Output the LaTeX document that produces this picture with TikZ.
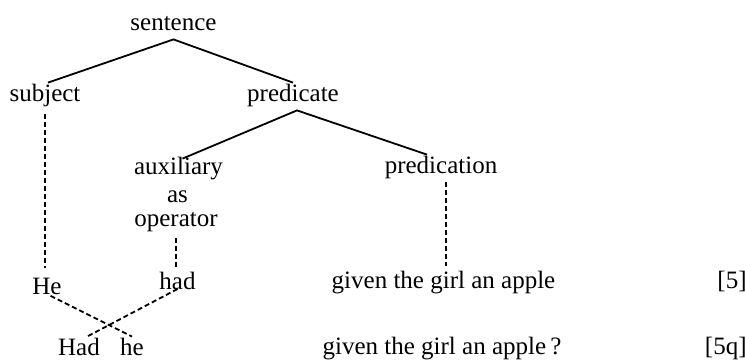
\documentclass[tikz,border=0pt]{standalone}
\usepackage{fontspec}
\setmainfont{Liberation Serif}
\begin{document}
\begin{tikzpicture}[x=0.5pt, y=-0.5pt, font=\fontsize{12.5}{15}\selectfont,
    word/.style  ={inner sep=2pt, text height=0.7em, text depth=0.25em, anchor=base},
    stack/.style ={word, inner sep=0.5pt},
    branch/.style={line width=0.9pt},
    link/.style  ={line width=0.9pt, dash pattern=on 2.5pt off 1.5pt},
  ]
  \useasboundingbox (0,0) rectangle (745,361);

  % tree
  \node[word] (sent)  at (173.5,30) {sentence};
  \node[word] (subj)  at (45,101)   {subject};
  \node[word] (pred)  at (293,101)  {predicate};
  \node[stack, text depth=0.2em] (aux) at (178.5,174) {auxiliary};
  \node[stack, text height=0.5em, text depth=0pt] (as) at (177.5,202) {as};
  \node[stack, text height=0.55em] (op) at (176,226) {operator};
  \node[word] (predn) at (441,173)  {predication};

  % sentence [5]
  \node[word] (he1)   at (47,294)    {He};
  \node[word] (had1)  at (177.5,289) {had};
  \node[word] (rest1) at (443.5,288) {given the girl an apple};
  \node[word, anchor=base east] (num1) at (751,288) {[5]};

  % question [5q]
  \node[word] (had2)  at (79,355)  {Had};
  \node[word] (he2)   at (132,355) {he};
  \node[word] (rest2) at (442,354) {given the girl an apple\,?};
  \node[word, anchor=base east] (num2) at (751,354) {[5q]};

  % branches
  \draw[branch] ([xshift=1.5pt]subj.north) -- (sent.south) -- (pred.north);
  \draw[branch] ([xshift=2pt]aux.north) -- ([xshift=2pt]pred.south) -- ([xshift=-7pt]predn.north);

  % realisations
  \draw[link, shorten <=2pt, shorten >=4pt] (subj.south) -- (subj.south |- he1.north);
  \draw[link, shorten <=3pt, shorten >=2pt] (op.south) -- (op.south |- had1.north);
  \draw[link, shorten >=2pt] ([xshift=2.5pt]predn.south) -- ([xshift=2.5pt]predn.south |- rest1.north);
  \draw[link, shorten <=2pt] (he1.base) -- (he2.north);
  \draw[link] (had1.base) -- ([xshift=4pt]had2.north);
\end{tikzpicture}
\end{document}
